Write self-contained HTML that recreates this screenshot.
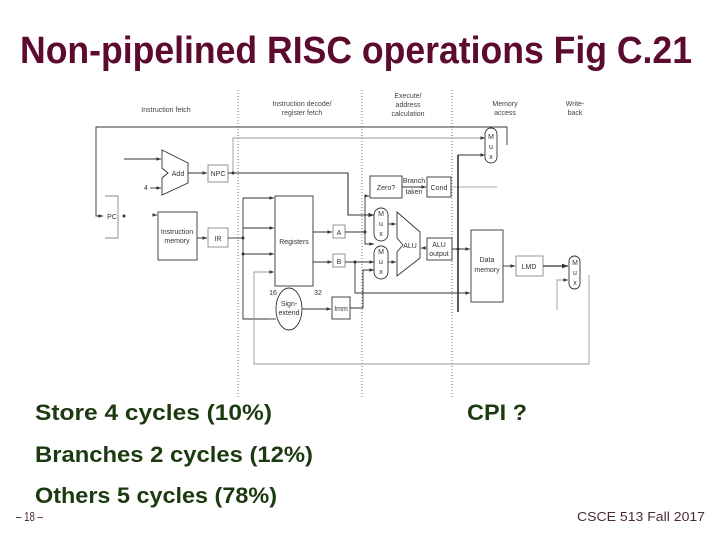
<!DOCTYPE html>
<html><head><meta charset="utf-8"><style>
html,body{margin:0;padding:0;background:#fff;}
svg{display:block;}
</style></head><body>
<svg width="720" height="540" viewBox="0 0 720 540" xmlns="http://www.w3.org/2000/svg" font-family="Liberation Sans, sans-serif">
<defs>
<marker id="ar" markerWidth="5" markerHeight="4" refX="5" refY="2" orient="auto"><path d="M0,0 L5,2 L0,4z" fill="#333"/></marker>
</defs>
<text x="20" y="63" font-size="38" font-weight="bold" fill="#5c0a2e" textLength="672" lengthAdjust="spacingAndGlyphs">Non-pipelined RISC operations Fig C.21</text>

<g stroke="#777" stroke-width="1" stroke-dasharray="1,2">
<line x1="238" y1="90" x2="238" y2="398"/>
<line x1="362" y1="90" x2="362" y2="398"/>
<line x1="452" y1="90" x2="452" y2="398"/>
</g>

<g font-size="7" fill="#444" text-anchor="middle">
<text x="166" y="112">Instruction fetch</text>
<text x="302" y="106">Instruction decode/</text>
<text x="302" y="115">register fetch</text>
<text x="408" y="98">Execute/</text>
<text x="408" y="107">address</text>
<text x="408" y="116">calculation</text>
<text x="505" y="106">Memory</text>
<text x="505" y="115">access</text>
<text x="575" y="106">Write-</text>
<text x="575" y="115">back</text>
</g>

<g fill="none" stroke="#333" stroke-width="0.9">
<polyline points="507,145 507,127 96,127 96,216 103,216" marker-end="url(#ar)"/>
<polyline points="233,172 233,138 485,138" stroke="#999" marker-end="url(#ar)"/>
<polygon points="162,150 188,163 188,183 162,195 162,178 168,173 162,168"/>
<line x1="124" y1="159" x2="161" y2="159" marker-end="url(#ar)"/>
<line x1="150" y1="188" x2="161" y2="188" marker-end="url(#ar)"/>
<line x1="188" y1="173" x2="207" y2="173" marker-end="url(#ar)"/>
<rect x="208" y="165" width="20" height="17" stroke="#888"/>
<polyline points="228,173 348,173 348,215 374,215" stroke-width="1.1" marker-end="url(#ar)"/>
<polyline points="105,196 118,196 118,238 105,238" stroke="#888"/>
<line x1="155" y1="215" x2="157" y2="215" marker-end="url(#ar)"/>
<rect x="158" y="212" width="39" height="48"/>
<line x1="197" y1="238" x2="207" y2="238" marker-end="url(#ar)"/>
<rect x="208" y="228" width="20" height="19" stroke="#888"/>
<polyline points="228,238 243,238" />
<polyline points="243,198 243,319 267,319"/>
<line x1="243" y1="198" x2="274" y2="198" marker-end="url(#ar)"/>
<line x1="243" y1="228" x2="274" y2="228" marker-end="url(#ar)"/>
<line x1="243" y1="254" x2="274" y2="254" marker-end="url(#ar)"/>
<rect x="275" y="196" width="38" height="90"/>
<line x1="313" y1="232" x2="332" y2="232" marker-end="url(#ar)"/>
<line x1="313" y1="262" x2="332" y2="262" marker-end="url(#ar)"/>
<rect x="333" y="225" width="12" height="13" stroke="#888"/>
<rect x="333" y="254" width="12" height="13" stroke="#888"/>
<polyline points="345,232 365,232 365,244 374,244" marker-end="url(#ar)"/>
<polyline points="365,232 365,196 369,196" marker-end="url(#ar)"/>
<polyline points="345,262 355,262 355,293 470,293" marker-end="url(#ar)"/>
<line x1="355" y1="262" x2="374" y2="262" marker-end="url(#ar)"/>
<polyline points="350,308 363,308 363,270 374,270" marker-end="url(#ar)"/>
<rect x="374" y="208" width="14" height="33" rx="7"/>
<rect x="374" y="246" width="14" height="33" rx="7"/>
<line x1="388" y1="224" x2="396" y2="224" marker-end="url(#ar)"/>
<line x1="388" y1="262" x2="396" y2="262" marker-end="url(#ar)"/>
<polygon points="397,212 420,232 420,258 397,276 397,252 403,245 397,238"/>
<line x1="426" y1="248" x2="421" y2="248" marker-end="url(#ar)"/>
<rect x="427" y="238" width="25" height="22"/>
<rect x="370" y="176" width="32" height="22"/>
<rect x="427" y="177" width="24" height="20"/>
<line x1="402" y1="187" x2="426" y2="187" marker-end="url(#ar)"/>
<line x1="451" y1="187" x2="497" y2="187" stroke="#aaa"/>
<line x1="458" y1="155" x2="458" y2="312" stroke-width="1.6"/>
<polyline points="458,155 485,155" marker-end="url(#ar)"/>
<line x1="452" y1="249" x2="470" y2="249" marker-end="url(#ar)"/>
<rect x="485" y="128" width="12" height="35" rx="6"/>
<rect x="471" y="230" width="32" height="72"/>
<line x1="503" y1="266" x2="515" y2="266" marker-end="url(#ar)"/>
<rect x="516" y="256" width="27" height="20" stroke="#888"/>
<line x1="543" y1="266" x2="568" y2="266" stroke-width="1.2" marker-end="url(#ar)"/>
<rect x="569" y="256" width="11" height="33" rx="5.5"/>
<polyline points="557,310 557,280 568,280" stroke="#999" marker-end="url(#ar)"/>
<ellipse cx="289" cy="309" rx="13" ry="21"/>
<line x1="302" y1="309" x2="331" y2="309" marker-end="url(#ar)"/>
<line x1="267" y1="319" x2="276" y2="319"/>
<rect x="332" y="297" width="18" height="22"/>
<polyline points="589,275 589,364 254,364 254,272 274,272" stroke="#999" marker-end="url(#ar)"/>
</g>
<g fill="#333">
<circle cx="124" cy="216" r="1.5"/><circle cx="233" cy="173" r="1.5"/>
<circle cx="243" cy="238" r="1.5"/><circle cx="243" cy="254" r="1.5"/>
<circle cx="365" cy="232" r="1.5"/><circle cx="355" cy="262" r="1.5"/><circle cx="458" cy="249" r="1.5"/>
</g>
<g font-size="7" fill="#333" text-anchor="middle">
<text x="178" y="176">Add</text><text x="218" y="176">NPC</text>
<text x="146" y="190">4</text><text x="112" y="219">PC</text>
<text x="177" y="234">Instruction</text><text x="177" y="243">memory</text>
<text x="218" y="241">IR</text><text x="294" y="244">Registers</text>
<text x="339" y="235">A</text><text x="339" y="264">B</text>
<text x="381" y="216">M</text><text x="381" y="226">u</text><text x="381" y="236">x</text>
<text x="381" y="254">M</text><text x="381" y="264">u</text><text x="381" y="274">x</text>
<text x="410" y="248">ALU</text>
<text x="439" y="247">ALU</text><text x="439" y="256">output</text>
<text x="386" y="190">Zero?</text><text x="414" y="183">Branch</text><text x="414" y="194">taken</text>
<text x="439" y="190">Cond</text>
<text x="491" y="139">M</text><text x="491" y="149">u</text><text x="491" y="159">x</text>
<text x="487" y="262">Data</text><text x="487" y="272">memory</text>
<text x="529" y="269">LMD</text>
<text x="575" y="265">M</text><text x="575" y="275">u</text><text x="575" y="285">x</text>
<text x="289" y="306">Sign-</text><text x="289" y="315">extend</text>
<text x="341" y="311">Imm</text><text x="273" y="295">16</text><text x="318" y="295">32</text>
</g>

<g font-weight="bold" font-size="22" fill="#1c3a10">
<text x="35" y="420" textLength="237" lengthAdjust="spacingAndGlyphs">Store 4 cycles  (10%)</text>
<text x="467" y="420" textLength="60" lengthAdjust="spacingAndGlyphs">CPI ?</text>
<text x="35" y="462" textLength="278" lengthAdjust="spacingAndGlyphs">Branches 2 cycles (12%)</text>
<text x="35" y="503" textLength="242" lengthAdjust="spacingAndGlyphs">Others 5 cycles (78%)</text>
</g>
<g font-size="13" fill="#4a2a3a">
<text x="16" y="521" textLength="27" lengthAdjust="spacingAndGlyphs">– 18 –</text>
<text x="577" y="521" textLength="128" lengthAdjust="spacingAndGlyphs">CSCE 513 Fall 2017</text>
</g>
</svg>
</body></html>
